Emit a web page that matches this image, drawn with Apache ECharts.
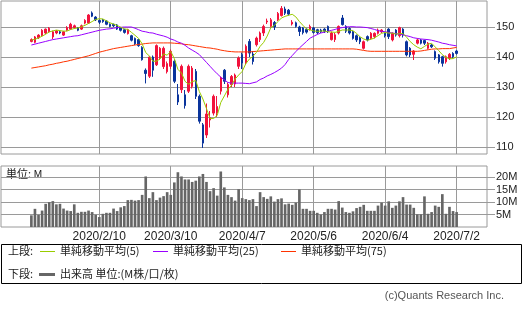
<!DOCTYPE html>
<html>
<head>
<meta charset="utf-8">
<script src="https://cdn.jsdelivr.net/npm/echarts@6/dist/echarts.min.js"></script>
<style>
  html, body { margin: 0; padding: 0; background: #fff; }
  #chart { width: 525px; height: 310px; }
</style>
</head>
<body>
<div id="chart"></div>
<script>
// trading days shown (2020/1/13 - 2020/7/2)
const dates = [
  '2020/1/13','2020/1/14','2020/1/15','2020/1/16','2020/1/17','2020/1/21','2020/1/22','2020/1/23','2020/1/24','2020/1/27','2020/1/28','2020/1/29','2020/1/30','2020/1/31',
  '2020/2/3','2020/2/4','2020/2/5','2020/2/6','2020/2/7','2020/2/10','2020/2/11','2020/2/12','2020/2/13','2020/2/14','2020/2/18','2020/2/19','2020/2/20','2020/2/21','2020/2/24','2020/2/25','2020/2/26','2020/2/27','2020/2/28',
  '2020/3/2','2020/3/3','2020/3/4','2020/3/5','2020/3/6','2020/3/9','2020/3/10','2020/3/11','2020/3/12','2020/3/13','2020/3/16','2020/3/17','2020/3/18','2020/3/19','2020/3/20','2020/3/23','2020/3/24','2020/3/25','2020/3/26','2020/3/27','2020/3/30','2020/3/31',
  '2020/4/1','2020/4/2','2020/4/3','2020/4/6','2020/4/7','2020/4/8','2020/4/9','2020/4/13','2020/4/14','2020/4/15','2020/4/16','2020/4/17','2020/4/20','2020/4/21','2020/4/22','2020/4/23','2020/4/24','2020/4/27','2020/4/28','2020/4/29','2020/4/30',
  '2020/5/1','2020/5/4','2020/5/5','2020/5/6','2020/5/7','2020/5/8','2020/5/11','2020/5/12','2020/5/13','2020/5/14','2020/5/15','2020/5/18','2020/5/19','2020/5/20','2020/5/21','2020/5/22','2020/5/26','2020/5/27','2020/5/28','2020/5/29',
  '2020/6/1','2020/6/2','2020/6/3','2020/6/4','2020/6/5','2020/6/8','2020/6/9','2020/6/10','2020/6/11','2020/6/12','2020/6/15','2020/6/16','2020/6/17','2020/6/18','2020/6/19','2020/6/22','2020/6/23','2020/6/24','2020/6/25','2020/6/26','2020/6/29','2020/6/30',
  '2020/7/1','2020/7/2'
];
const tickLabels = ['2020/2/10', '2020/3/10', '2020/4/7', '2020/5/6', '2020/6/4', '2020/7/2'];
const priceTicks = [110, 120, 130, 140, 150];
const volTicks = [5, 10, 15, 20];

// [open, close, low, high]
const candles = [
  [145.2,145.8,144.9,146.2],[144.9,146.7,144.6,147.0],[146.4,147.3,146.0,147.6],[147.1,148.9,146.8,149.3],[148.0,149.3,147.6,149.5],
  [148.4,149.6,148.0,150.0],[146.7,148.4,146.0,148.8],[148.0,148.7,147.6,149.0],[148.4,148.0,147.6,148.8],[147.3,148.4,147.0,148.7],
  [148.9,149.8,148.6,150.3],[149.3,150.9,149.0,151.4],[149.8,150.4,149.4,150.8],[149.8,148.9,148.6,150.0],[149.3,150.4,149.0,150.8],
  [151.3,152.2,150.9,152.6],[151.3,154.0,151.0,154.3],[154.7,153.6,153.3,155.2],[153.3,152.4,152.0,153.6],[152.2,151.6,151.0,152.5],
  [152.4,151.8,151.4,152.7],[152.0,150.9,150.6,152.2],[150.9,150.2,149.9,151.2],[150.9,150.4,150.0,151.1],[150.7,149.3,149.0,151.0],
  [149.8,148.9,148.5,150.0],[149.1,148.2,147.8,149.4],[147.8,149.1,147.5,149.4],[147.1,145.6,145.2,147.4],[146.2,144.4,144.0,146.5],
  [145.8,143.8,143.4,146.0],[143.2,139.1,138.8,143.6],[135.6,134.5,131.2,136.2],[133.6,140.0,133.0,140.4],[140.0,135.6,133.4,140.5],
  [137.4,143.8,137.0,144.2],[139.6,142.9,139.0,143.3],[136.8,142.9,136.0,143.5],[135.1,137.8,134.5,138.5],[136.9,141.9,136.0,142.5],
  [138.6,131.9,131.3,139.2],[127.4,125.0,124.0,131.0],[129.1,136.9,128.0,137.5],[127.4,123.8,122.8,129.0],[128.6,136.9,128.0,137.5],
  [130.2,136.3,129.5,137.0],[135.2,126.9,126.0,136.0],[126.9,118.6,117.8,127.5],[117.4,111.3,109.7,118.0],[114.0,121.0,113.0,124.5],
  [119.0,119.8,116.5,122.0],[121.3,126.9,120.5,127.5],[121.3,123.5,120.0,127.0],[128.6,133.0,127.5,133.5],[135.6,131.9,131.0,136.0],
  [127.4,130.8,126.5,131.5],[130.8,133.5,130.0,134.0],[131.0,134.0,130.0,134.5],[136.9,139.7,136.0,140.2],[140.8,138.0,136.0,141.5],
  [138.0,143.6,137.5,144.2],[145.2,141.3,140.0,146.0],[141.0,138.5,137.5,142.0],[144.1,146.3,143.5,146.8],[145.8,148.0,145.0,148.5],
  [148.0,150.2,147.0,150.8],[151.7,152.0,151.0,152.8],[150.2,152.4,149.8,153.0],[151.5,150.0,149.0,152.0],[152.4,154.5,152.0,155.0],
  [153.8,156.2,153.5,157.0],[156.0,154.6,154.0,156.8],[155.6,154.3,153.8,156.0],[151.0,151.6,150.5,152.3],[151.4,150.2,149.8,151.8],
  [150.0,148.5,147.0,150.4],[149.7,148.1,147.5,150.0],[149.2,148.3,147.8,149.6],[149.1,150.2,148.8,150.8],[149.7,148.2,147.8,150.0],
  [149.1,148.1,147.6,149.4],[149.0,148.4,148.0,149.4],[149.3,148.6,148.0,149.6],[150.2,148.6,148.0,150.5],[145.8,148.0,145.5,148.5],
  [145.8,147.4,145.0,148.0],[148.0,150.2,147.5,150.5],[153.0,150.8,150.5,154.0],[150.2,148.6,148.0,150.6],[149.5,148.0,147.5,149.9],
  [148.5,146.2,145.8,148.8],[147.1,145.7,145.0,147.5],[146.4,145.1,144.3,146.8],[142.9,145.1,142.5,145.5],[146.8,145.7,145.2,147.2],
  [146.2,147.9,145.8,148.3],[146.8,147.9,146.2,148.2],[147.9,149.0,147.5,149.5],[148.4,149.0,148.0,149.3],[147.9,147.1,146.5,148.2],
  [149.3,146.8,146.0,149.6],[145.7,147.9,145.2,148.2],[149.0,147.3,146.8,149.3],[147.1,149.8,146.5,150.1],[149.3,147.3,146.5,149.6],
  [145.1,140.7,140.2,145.5],[142.9,140.7,140.0,143.3],[140.9,142.0,139.0,142.3],[144.6,145.7,144.2,146.2],[145.7,144.6,144.2,146.0],
  [145.5,144.6,144.0,145.8],[142.9,144.6,142.5,145.0],[144.0,143.4,143.0,144.3],[141.8,139.6,139.0,142.2],[140.7,138.4,137.8,141.0],
  [140.1,137.9,136.8,140.4],[138.4,140.1,137.8,140.5],[139.6,140.9,139.0,141.3],[141.2,140.1,139.7,141.6],[142.0,141.2,140.8,142.3]
];
// closes of the 4 sessions before the first bar (for the 5-day average)
const prevCloses = [145.0, 145.3, 145.9, 146.0];

const ma25 = [
  144.0,144.3,144.6,144.9,145.2,145.5,145.8,146.0,146.2,146.4,
  146.6,146.8,147.0,147.1,147.4,147.7,148.0,148.3,148.6,148.9,
  149.1,149.3,149.4,149.6,149.8,149.9,150.0,150.0,150.0,149.6,
  149.1,148.6,148.4,148.1,148.0,147.6,147.3,147.0,146.6,146.0,
  145.6,145.0,144.6,143.9,143.0,142.3,141.6,140.8,139.5,138.2,
  136.9,135.6,134.4,133.3,132.4,131.5,131.3,131.3,131.3,131.3,
  131.2,131.1,131.4,131.7,132.5,133.0,133.7,134.2,134.8,135.5,
  136.3,137.5,139.2,140.5,141.8,143.0,144.1,145.2,146.3,146.9,
  147.5,148.0,148.3,148.6,148.9,149.2,149.6,149.8,150.0,150.1,
  150.1,150.0,150.0,149.9,149.8,149.5,149.2,148.8,148.6,148.4,
  148.2,148.0,147.8,147.6,147.4,147.1,146.8,146.4,146.2,146.0,
  145.9,145.8,145.6,145.3,145.0,144.6,144.4,144.1,143.9,143.7
];
const ma75 = [
  136.3,136.5,136.7,136.9,137.1,137.4,137.6,137.9,138.1,138.4,
  138.6,138.9,139.2,139.5,139.8,140.1,140.4,140.8,141.2,141.6,
  141.9,142.2,142.5,142.8,143.0,143.2,143.4,143.6,143.8,144.0,
  144.2,144.3,144.5,144.6,144.7,144.7,144.7,144.7,144.7,144.7,
  144.6,144.5,144.4,144.2,144.1,143.9,143.7,143.5,143.3,143.1,
  143.0,142.8,142.6,142.3,142.1,141.9,141.8,141.7,141.7,141.7,
  141.7,141.7,141.8,141.9,142.0,142.1,142.2,142.3,142.4,142.5,
  142.6,142.7,142.7,142.7,142.7,142.7,142.7,142.7,142.7,142.7,
  142.7,142.7,142.7,142.7,142.7,142.7,142.7,142.7,142.7,142.7,
  142.7,142.6,142.4,142.2,142.0,141.9,141.9,141.9,141.9,141.9,
  141.9,141.9,141.9,141.9,141.9,141.9,141.9,141.9,141.9,142.0,
  142.2,142.4,142.6,142.7,142.7,142.8,142.8,142.8,143.0,143.2
];
// volume, millions
const volume = [
  4.7,7.3,4.9,6.6,9.3,10.0,10.4,9.1,9.3,7.4,
  6.6,6.4,9.1,5.7,6.1,6.1,6.6,6.0,4.9,4.0,
  5.3,5.7,5.7,7.4,6.4,7.9,8.4,10.8,10.9,10.6,
  10.8,12.9,20.3,11.6,14.0,10.8,11.8,12.4,14.0,12.9,
  17.9,22.0,20.3,19.1,19.1,18.1,18.6,20.3,21.3,18.1,
  14.4,15.6,12.6,22.3,15.9,12.9,12.0,10.6,15.2,11.6,
  11.2,10.8,11.2,8.4,14.0,12.0,11.3,12.3,10.2,11.2,
  11.5,9.1,9.4,8.9,9.8,15.1,7.3,7.3,6.5,6.5,
  5.7,5.0,6.0,7.3,7.3,7.0,10.4,7.8,6.0,5.7,
  6.3,7.6,8.1,8.9,6.5,6.5,6.5,8.6,9.8,8.6,
  10.3,7.7,8.6,10.3,12.0,9.0,9.0,7.7,5.1,5.1,
  12.3,5.3,6.0,8.6,8.1,13.2,5.3,8.1,6.4,6.0
];

const PAD = 8;
const cats = Array(PAD).fill('').concat(dates, Array(PAD).fill(''));
const closes = prevCloses.concat(candles.map(c => c[1]));
const ma5 = candles.map((c, i) => {
  let s = 0;
  for (let k = i; k < i + 5; k++) s += closes[k];
  return +(s / 5).toFixed(2);
});

const UP = '#f2123c', DOWN = '#0a349c', GRID = '#9a9a9a';
const NUM_FONT = 'Liberation Sans';
const JP_FONT = '"Noto Sans CJK JP"';
const isTick = (i, v) => tickLabels.indexOf(v) >= 0;

const chart = echarts.init(document.getElementById('chart'));
const option = {
  animation: false,
  backgroundColor: '#fff',
  grid: [
    { left: 1, top: 1, width: 486, height: 153, show: true, borderColor: GRID, borderWidth: 1, backgroundColor: '#fff' },
    { left: 1, top: 166, width: 486, height: 61, show: true, borderColor: GRID, borderWidth: 1, backgroundColor: '#fff' }
  ],
  xAxis: [
    {
      type: 'category', gridIndex: 0, data: cats, boundaryGap: true,
      axisLine: { show: false }, axisTick: { show: false }, axisLabel: { show: false },
      splitLine: { show: true, interval: isTick, alignWithLabel: true, lineStyle: { color: GRID, width: 1 } }
    },
    {
      type: 'category', gridIndex: 1, data: cats, boundaryGap: true,
      axisLine: { show: false }, axisTick: { show: false },
      axisLabel: { show: true, interval: isTick, margin: 4, fontSize: 12, color: '#222', fontFamily: NUM_FONT },
      splitLine: { show: true, interval: isTick, alignWithLabel: true, lineStyle: { color: GRID, width: 1 } }
    }
  ],
  yAxis: [
    {
      type: 'value', gridIndex: 0, position: 'right', min: 107.67, max: 158.67,
      axisLine: { show: false },
      axisTick: { show: true, inside: false, length: 8, customValues: priceTicks, lineStyle: { color: GRID } },
      axisLabel: {
        customValues: priceTicks, margin: 9, fontSize: 11, color: '#222', fontFamily: NUM_FONT,
        formatter: v => (priceTicks.indexOf(v) >= 0 ? String(v) : '')
      },
      splitLine: { show: true, lineStyle: { color: GRID, width: 1 } }
    },
    {
      type: 'value', gridIndex: 1, position: 'right', min: 0, max: 24.5,
      axisLine: { show: false },
      axisTick: { show: true, inside: false, length: 8, customValues: volTicks, lineStyle: { color: GRID } },
      axisLabel: {
        customValues: volTicks, margin: 9, fontSize: 11, color: '#222', fontFamily: NUM_FONT,
        formatter: v => (volTicks.indexOf(v) >= 0 ? v + 'M' : '')
      },
      splitLine: { show: true, lineStyle: { color: GRID, width: 1 } }
    }
  ],
  series: [
    {
      name: 'price', type: 'candlestick', xAxisIndex: 0, yAxisIndex: 0,
      encode: { x: 0, y: [1, 2, 3, 4] },
      data: candles.map((c, i) => [i + PAD].concat(c)),
      barWidth: 2,
      itemStyle: { color: UP, color0: DOWN, borderColor: UP, borderColor0: DOWN, borderWidth: 1 }
    },
    {
      name: '単純移動平均(75)', type: 'line', xAxisIndex: 0, yAxisIndex: 0, z: 3,
      data: ma75.map((v, i) => [i + PAD, v]), showSymbol: false, silent: true,
      lineStyle: { color: '#ff3300', width: 1 }
    },
    {
      name: '単純移動平均(25)', type: 'line', xAxisIndex: 0, yAxisIndex: 0, z: 3,
      data: ma25.map((v, i) => [i + PAD, v]), showSymbol: false, silent: true,
      lineStyle: { color: '#9900ff', width: 1 }
    },
    {
      name: '単純移動平均(5)', type: 'line', xAxisIndex: 0, yAxisIndex: 0, z: 3,
      data: ma5.map((v, i) => [i + PAD, v]), showSymbol: false, silent: true,
      lineStyle: { color: '#99cc00', width: 1 }
    },
    {
      name: '出来高', type: 'bar', xAxisIndex: 1, yAxisIndex: 1,
      data: volume.map((v, i) => [i + PAD, v]), barWidth: '74%',
      itemStyle: { color: '#666666' }
    }
  ],
  graphic: [
    { type: 'text', left: 6, top: 168, style: { text: '単位: M', font: '11px ' + JP_FONT, fill: '#222' } },
    { type: 'rect', shape: { x: 1.5, y: 244.5, width: 520, height: 39 }, style: { fill: '#fff', stroke: '#000', lineWidth: 1 } },
    { type: 'text', x: 8, y: 251, style: { text: '上段:', font: '11px ' + JP_FONT, fill: '#222', verticalAlign: 'middle' } },
    { type: 'line', shape: { x1: 40, y1: 251.5, x2: 55, y2: 251.5 }, style: { stroke: '#99cc00', lineWidth: 1 } },
    { type: 'text', x: 60, y: 251, style: { text: '単純移動平均(5)', font: '11px ' + JP_FONT, fill: '#222', verticalAlign: 'middle' } },
    { type: 'line', shape: { x1: 153, y1: 251.5, x2: 168, y2: 251.5 }, style: { stroke: '#9900ff', lineWidth: 1 } },
    { type: 'text', x: 173, y: 251, style: { text: '単純移動平均(25)', font: '11px ' + JP_FONT, fill: '#222', verticalAlign: 'middle' } },
    { type: 'line', shape: { x1: 281, y1: 251.5, x2: 296, y2: 251.5 }, style: { stroke: '#ff3300', lineWidth: 1 } },
    { type: 'text', x: 301, y: 251, style: { text: '単純移動平均(75)', font: '11px ' + JP_FONT, fill: '#222', verticalAlign: 'middle' } },
    { type: 'text', x: 8, y: 274, style: { text: '下段:', font: '11px ' + JP_FONT, fill: '#222', verticalAlign: 'middle' } },
    { type: 'rect', shape: { x: 39, y: 273, width: 16, height: 3 }, style: { fill: '#666666' } },
    { type: 'text', x: 60, y: 274, style: { text: '出来高 単位:(M株/口/枚)', font: '11px ' + JP_FONT, fill: '#222', verticalAlign: 'middle' } },
    { type: 'text', x: 504, y: 296, style: { text: '(c)Quants Research Inc.', font: '11px ' + NUM_FONT, fill: '#555', align: 'right', verticalAlign: 'middle' } }
  ]
};
chart.setOption(option);
</script>
</body>
</html>
